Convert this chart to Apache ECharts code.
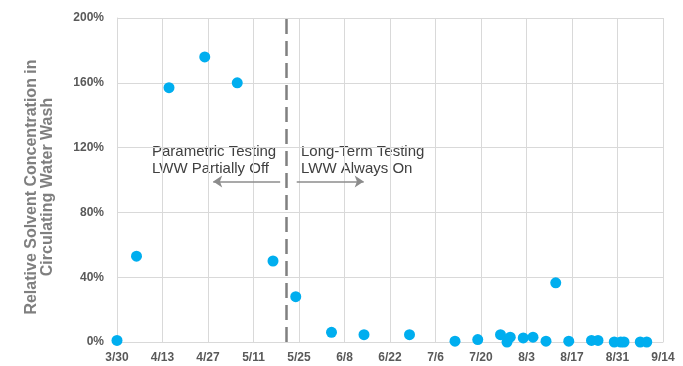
<!DOCTYPE html>
<html>
<head>
<meta charset="utf-8">
<script src="https://cdn.jsdelivr.net/npm/echarts@6/dist/echarts.min.js"></script>
<style>
html,body{margin:0;padding:0;background:#fff;}
#chart{width:683px;height:366px;}
</style>
</head>
<body>
<div id="chart"></div>
<script>
// ---- data ----
var sampleDates = ['3/30','4/5','4/15','4/26','5/6','5/17','5/24','6/4','6/14','6/28','7/12','7/19','7/26','7/28','7/29','8/2','8/5','8/9','8/12','8/16','8/23','8/25','8/30','9/1','9/2','9/7','9/9'];
var concentration = [1,53,157,176,160,50,28,6,4.5,4.5,0.5,1.5,4.5,0,3,2.5,3,0.5,36.5,0.5,1,1,0,0,0,0,0];
var xTickLabels = ['3/30','4/13','4/27','5/11','5/25','6/8','6/22','7/6','7/20','8/3','8/17','8/31','9/14'];
var yTicks = [0,40,80,120,160,200];
var switchDate = '5/21';
var leftNote = ['Parametric Testing','LWW Partially Off'];
var rightNote = ['Long-Term Testing','LWW Always On'];
var yTitle = ['Relative Solvent Concentration in','Circulating Water Wash'];

function toDay(s){
  var p = s.split('/').map(Number);
  return (Date.UTC(2021,p[0]-1,p[1]) - Date.UTC(2021,2,30)) / 86400000;
}
var points = sampleDates.map(function(d,i){ return [toDay(d), concentration[i]]; });

var chart = echarts.init(document.getElementById('chart'), null, {renderer:'canvas'});
var gridColor = '#d9d9d9';
var labelFont = {color:'#595959', fontWeight:'bold', fontSize:12, fontFamily:'Liberation Sans, Arial, sans-serif'};

chart.setOption({
  animation:false,
  backgroundColor:'#fff',
  grid:{left:117, right:20, top:18, bottom:24, containLabel:false},
  xAxis:{
    type:'value', min:0, max:168, interval:14,
    axisLine:{show:true, lineStyle:{color:gridColor, width:1}},
    axisTick:{show:false},
    splitLine:{show:true, lineStyle:{color:gridColor, width:1}},
    axisLabel:Object.assign({margin:10, formatter:function(v){ return xTickLabels[Math.round(v/14)] || ''; }}, labelFont)
  },
  yAxis:{
    type:'value', min:yTicks[0], max:yTicks[yTicks.length-1], interval:40,
    axisLine:{show:true, lineStyle:{color:gridColor, width:1}},
    axisTick:{show:false},
    splitLine:{show:true, lineStyle:{color:gridColor, width:1}},
    axisLabel:Object.assign({margin:13, formatter:'{value}%'}, labelFont)
  },
  series:[
    {
      type:'scatter',
      data:points,
      symbolSize:11,
      itemStyle:{color:'#00aeef', opacity:1},
      z:5,
      markLine:{
        silent:true,
        symbol:['none','none'],
        label:{show:false},
        animation:false,
        lineStyle:{color:'#808080', type:[15,7], width:2.5},
        data:[{xAxis:toDay(switchDate)}]
      }
    },
    {
      type:'scatter',
      data:[],
      markLine:{
        silent:true,
        symbol:['none','arrow'],
        symbolSize:9,
        label:{show:false},
        animation:false,
        lineStyle:{color:'#8c8c8c', type:'solid', width:1.5},
        data:[
          [{coord:[50.2,99]},{coord:[29.6,99]}],
          [{coord:[55.3,99]},{coord:[75.9,99]}]
        ]
      }
    }
  ],
  graphic:[
    {type:'text', x:40, y:187, rotation:Math.PI/2,
     style:{text:yTitle.join('\n'), align:'center', verticalAlign:'middle', fill:'#7f7f7f',
            font:'bold 16px "Liberation Sans", Arial, sans-serif', lineHeight:16}},
    {type:'text', x:152, y:160,
     style:{text:leftNote.join('\n'), align:'left', verticalAlign:'middle', fill:'#404040',
            font:'15px "Liberation Sans", Arial, sans-serif', lineHeight:17}},
    {type:'text', x:301, y:160,
     style:{text:rightNote.join('\n'), align:'left', verticalAlign:'middle', fill:'#404040',
            font:'15px "Liberation Sans", Arial, sans-serif', lineHeight:17}}
  ]
});
</script>
</body>
</html>
